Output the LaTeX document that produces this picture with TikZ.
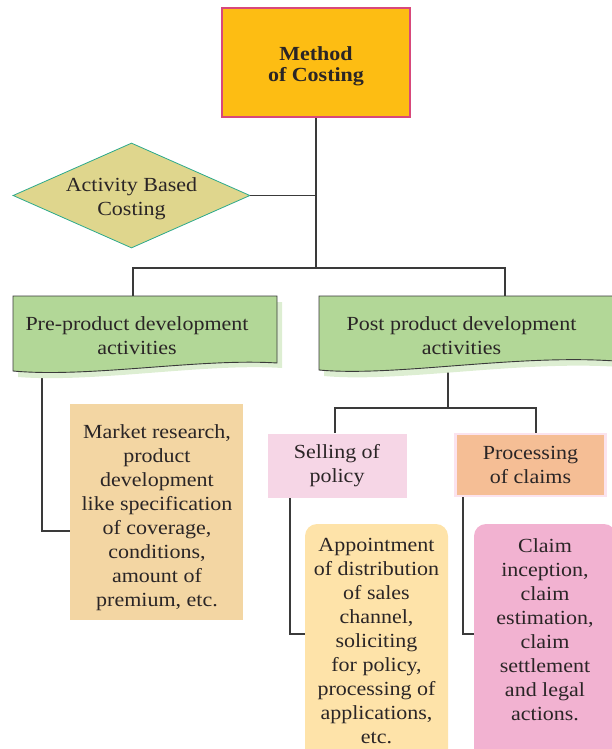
\documentclass[tikz,border=0pt]{standalone}
\usepackage{fontspec}
\setmainfont[FakeStretch=1.1]{Liberation Serif}
\usetikzlibrary{shapes.geometric}

\definecolor{ink}{HTML}{2A2526}
\definecolor{wire}{HTML}{3A3A3A}
\definecolor{methodfill}{HTML}{FDBD13}
\definecolor{methoddraw}{HTML}{D8487B}
\definecolor{abcfill}{HTML}{DFD68D}
\definecolor{abcdraw}{HTML}{2BA98B}
\definecolor{leaf}{HTML}{B2D797}
\definecolor{leafshade}{HTML}{DDEED2}
\definecolor{marketfill}{HTML}{F3D6A3}
\definecolor{sellfill}{HTML}{F6D6E6}
\definecolor{claimfill}{HTML}{F5BE95}
\definecolor{claimdraw}{HTML}{FBE3EE}
\definecolor{apptfill}{HTML}{FEE3A9}
\definecolor{settlefill}{HTML}{F2B2D1}

\begin{document}
\begin{tikzpicture}[x=1pt, y=-1pt,
    every node/.style={text=ink, align=center, font=\fontsize{20}{24}\selectfont},
    wireline/.style={draw=wire, line width=1.2pt},
    methodbox/.style={rectangle, fill=methodfill, draw=methoddraw, line width=1.2pt,
        minimum width=188pt, minimum height=109pt},
    abcshape/.style={diamond, fill=abcfill, draw=abcdraw, line width=0.8pt,
        minimum width=237pt, minimum height=105pt, inner sep=0pt},
    leafline/.style={draw=wire, line width=0.9pt},
    plainbox/.style={rectangle, minimum width=#1, inner sep=0pt},
    roundbox/.style={rectangle, rounded corners=12pt, inner sep=0pt}]

    \useasboundingbox (0,0) rectangle (612,749);
    \clip (0,0) rectangle (612,749);

    % connectors
    \coordinate (hub) at (316,268);
    \coordinate (pretop) at (133,296);
    \coordinate (posttop) at (505,296);
    \coordinate (prefoot) at (42,368);
    \coordinate (marketin) at (70,531);
    \coordinate (postfoot) at (448,366);
    \coordinate (split) at (448,408);
    \coordinate (selltop) at (335,433);
    \coordinate (claimtop) at (536,433);
    \coordinate (sellfoot) at (290,497);
    \coordinate (apptin) at (305,634);
    \coordinate (claimfoot) at (463,496);
    \coordinate (settlein) at (474,634);

    \draw[wireline] (316,117) -- (hub);
    \draw[wireline] (pretop) |- (hub) -| (posttop);
    \draw[wireline] (prefoot) |- (marketin);
    \draw[wireline] (postfoot) -- (split);
    \draw[wireline] (selltop) |- (split) -| (claimtop);
    \draw[wireline] (sellfoot) |- (apptin);
    \draw[wireline] (claimfoot) |- (settlein);

    % top box
    \node[methodbox] (method) at (316,62.5) {};
    \node[font=\fontsize{20}{21}\selectfont\bfseries] (methodtext) at (316,66.5) {Method\\of Costing};

    % activity based costing
    \node[abcshape] (abc) at (131.5,195.5) {};
    \node (abctext) at (131.5,199) {Activity Based\\Costing};
    \draw[wireline] (abc.east) -- (abc.east -| hub);

    % pre-product development
    \fill[leafshade] (18,302) -- (282,302) -- (282,368) .. controls (205,363) and (95,383) .. (18,377) -- cycle;
    \fill[leaf] (13,296) -- (277,296) -- (277,363) .. controls (200,358) and (90,378) .. (13,371) -- cycle;
    \draw[leafline] (13,296) -- (277,296) -- (277,363) .. controls (200,358) and (90,378) .. (13,371) -- cycle;
    \node (pre) at (137,336) {\fontsize{20}{22.5}\selectfont Pre-product development\\activities};

    % post product development
    \fill[leafshade] (324,302) -- (620,302) -- (620,367) .. controls (520,360) and (400,383) .. (324,376) -- cycle;
    \fill[leaf] (319,296) -- (615,296) -- (615,361) .. controls (515,354) and (395,377) .. (319,370) -- cycle;
    \draw[leafline] (319,296) -- (615,296) -- (615,361) .. controls (515,354) and (395,377) .. (319,370) -- cycle;
    \node (post) at (461.5,336) {\fontsize{20}{22.5}\selectfont Post product development\\activities};

    % market research
    \node[plainbox=173pt, fill=marketfill, minimum height=216pt] (market) at (156.5,512) {};
    \node (markettext) at (157,517.5)
        {Market research,\\product\\development\\like specification\\of coverage,\\conditions,\\amount of\\premium, etc.};

    % selling and claims
    \node[plainbox=139pt, fill=sellfill, minimum height=64pt] (selling) at (337,466) {Selling of\\policy};
    \node[plainbox=150pt, fill=claimfill, draw=claimdraw, line width=2.5pt, minimum height=62pt] (claims) at (530.5,465)
        {Processing\\of claims};

    % bottom boxes
    \node[roundbox, fill=apptfill, minimum width=143pt, minimum height=250pt] (apptbox) at (376.5,649) {};
    \node[anchor=north] (appt) at ([yshift=-11pt]apptbox.north)
        {Appointment\\of distribution\\of sales\\channel,\\soliciting\\for policy,\\processing of\\applications,\\etc.};
    \node[roundbox, fill=settlefill, minimum width=142pt, minimum height=250pt] (settlebox) at (545,649) {};
    \node[anchor=north] (settle) at ([yshift=-11pt]settlebox.north)
        {Claim\\inception,\\claim\\estimation,\\claim\\settlement\\and legal\\actions.};
\end{tikzpicture}
\end{document}
